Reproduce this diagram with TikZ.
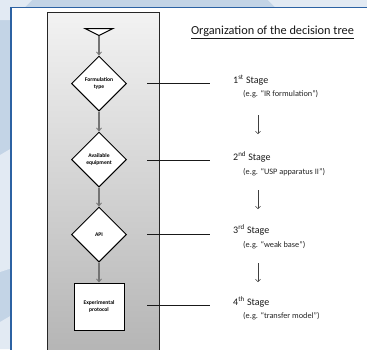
\documentclass[tikz,border=0pt]{standalone}
\usepackage{fontspec}
\setmainfont{Carlito}
\usetikzlibrary{shapes.geometric,arrows.meta,calc}

\definecolor{bgblue}{HTML}{C3D4E6}
\definecolor{bglight}{HTML}{E2EAF3}
\definecolor{frameblue}{HTML}{2C62A3}
\definecolor{flowgray}{HTML}{747474}

\tikzset{
  decision/.style={diamond, draw=black, line width=1pt, fill=white,
    minimum width=55pt, minimum height=55pt, inner sep=0pt, align=center,
    font=\fontsize{5.6}{6.4}\selectfont\bfseries},
  protocol/.style={rectangle, draw=black, line width=1pt, fill=white,
    minimum width=50pt, minimum height=47pt, inner sep=0pt, align=center,
    font=\fontsize{5.6}{6.4}\selectfont\bfseries},
  flow/.style={draw=flowgray, line width=1.4pt, -{Straight Barb[length=3pt,width=5pt,line width=0.8pt]}},
  stagelink/.style={draw=black!90, line width=0.75pt},
  stagedown/.style={draw=black!75, line width=0.6pt, -{Straight Barb[length=2.5pt,width=5pt,line width=0.5pt]}},
  stagename/.style={anchor=west, inner sep=0pt, font=\fontsize{10}{12}\selectfont, text=black!90},
  example/.style={anchor=west, inner sep=0pt, font=\fontsize{8.3}{10}\selectfont, text=black!85},
}

\begin{document}
\begin{tikzpicture}[x=1pt, y=-1pt]
\useasboundingbox (0,0) rectangle (367,349);

% backdrop
\fill[bgblue] (0,0) rectangle (367,349);
\fill[bglight] (0,0) -- (32,0) -- (12,20) -- (0,20) -- cycle;
\fill[bglight] (268,0) -- (367,0) -- (367,8) -- (276,8) -- cycle;
\fill[bglight] (0,155) -- (12,148) -- (12,268) -- (0,272) -- cycle;
\fill[bglight] (0,322) -- (12,315) -- (12,349) -- (0,349) -- cycle;

% white sheet with blue frame
\fill[white] (11,7.5) rectangle (368,350);
\draw[frameblue, line width=1.6pt] (11,350) -- (11,7.5) -- (368,7.5);

% grey column behind the flow chart
\shade[top color=black!5, bottom color=black!29] (47,12.5) rectangle (159,352);
\draw[black!85, line width=0.9pt] (47,352) -- (47,12.5) -- (159,12.5) -- (159,352);

% start marker
\draw[black, line width=1pt, fill=white] (85,28.5) -- (113,28.5) -- (99,35.5) -- cycle;
\coordinate (start) at (99,35.5);

% flow chart
\node[decision] (d1) at (99,83.5) {Formulation\\type};
\node[decision] (d2) at (99,159.5) {Available\\equipment};
\node[decision] (d3) at (99,234.5) {API};
\node[protocol] (p4) at (99,306.5) {Experimental\\protocol};

\draw[flow] (start) -- (d1.north);
\draw[flow] (d1.south) -- (d2.north);
\draw[flow] (d2.south) -- (d3.north);
\draw[flow] (d3.south) -- (p4.north);

% heading
\node[font=\fontsize{12.3}{14}\selectfont, text=black!90, inner sep=0pt] (title) at (272.5,32.5)
  {\underline{Organization of the decision tree}};

% stages
\node[stagename] (s1) at (233,80) {1\textsuperscript{st} Stage};
\node[example]   (e1) at (243,94) {(e.g. “IR formulation”)};
\node[stagename] (s2) at (233,157) {2\textsuperscript{nd} Stage};
\node[example]   (e2) at (243,172) {(e.g. “USP apparatus II”)};
\node[stagename] (s3) at (233,230) {3\textsuperscript{rd} Stage};
\node[example]   (e3) at (243,245) {(e.g. “weak base”)};
\node[stagename] (s4) at (233,302) {4\textsuperscript{th} Stage};
\node[example]   (e4) at (243,316) {(e.g. “transfer model”)};

% links from the chart to the stages
\coordinate (a1) at (147,83);  \coordinate (b1) at (210,83);
\coordinate (a2) at (147,160); \coordinate (b2) at (210,160);
\coordinate (a3) at (147,234); \coordinate (b3) at (210,234);
\coordinate (a4) at (147,305); \coordinate (b4) at (210,305);
\draw[stagelink] (a1) -- (b1);
\draw[stagelink] (a2) -- (b2);
\draw[stagelink] (a3) -- (b3);
\draw[stagelink] (a4) -- (b4);

% arrows between stages
\coordinate (t1) at (258,115); \coordinate (h1) at (258,134);
\coordinate (t2) at (258,190); \coordinate (h2) at (258,209);
\coordinate (t3) at (258,263); \coordinate (h3) at (258,282);
\draw[stagedown] (t1) -- (h1);
\draw[stagedown] (t2) -- (h2);
\draw[stagedown] (t3) -- (h3);
\end{tikzpicture}
\end{document}
